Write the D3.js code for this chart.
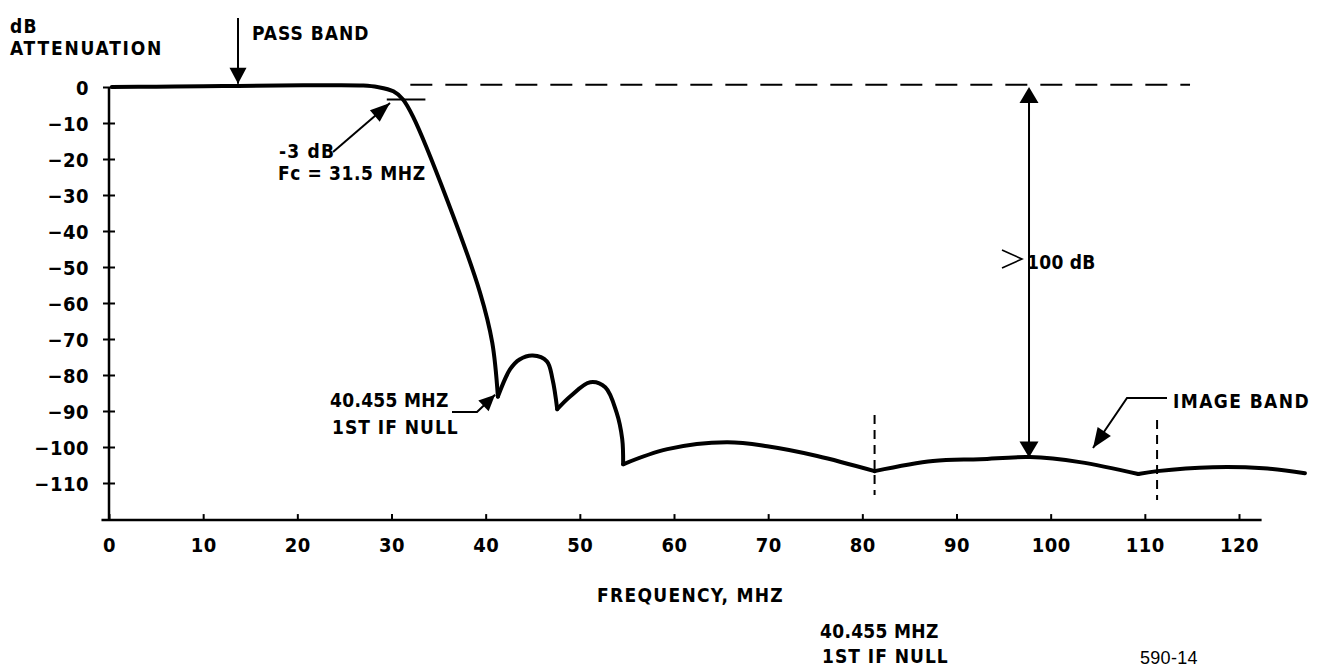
<!DOCTYPE html>
<html><head><meta charset="utf-8">
<script src="https://cdn.jsdelivr.net/npm/d3@7"></script>
<style>html,body{margin:0;padding:0;background:#fff;}svg{display:block;}</style>
</head><body>
<svg id="chart" width="1318" height="669"></svg>
<script>
// ---- data ----
const freqMHz = [0.3, 5, 10, 13.7, 18, 23.8, 27, 28.5, 30.2, 31.2, 32.3, 35.9, 39.4, 40.7, 41.3,
  42.6, 43.6, 45.0, 46.5, 47.1, 47.6, 49.0, 51.1, 52.7, 53.9, 54.5, 54.6,
  59.3, 65.6, 69.9, 75.2, 81.3, 87.5, 92.5, 97.8, 103.1, 109.3, 111.3, 117.2, 122.6, 127.0];
const attenDB = [0, 0.1, 0.2, 0.3, 0.4, 0.5, 0.4, 0, -1.2, -3.4, -8.3, -31.3, -57.1, -71, -86,
  -78.4, -75.7, -74.6, -76.2, -81.2, -89.5, -85.9, -82, -83.4, -90.4, -97.8, -104.8,
  -100.6, -98.7, -99.8, -102.5, -106.7, -103.9, -103.4, -102.8, -104.2, -107.5, -106.7, -105.6, -105.9, -107.3];
const nullFreqs = [41.3, 47.6, 54.6, 81.3, 109.3];
const xTickValues = [0, 10, 20, 30, 40, 50, 60, 70, 80, 90, 100, 110, 120];
const yTickValues = [0, -10, -20, -30, -40, -50, -60, -70, -80, -90, -100, -110];
const imageBandMarks = [81.3, 111.3];
const rejectionMHz = 97.7;
const passBandMHz = 13.7;

// ---- layout ----
const FONT = "'DejaVu Sans Condensed','DejaVu Sans',sans-serif";
const svg = d3.select("#chart");
const x = d3.scaleLinear().domain([0, 120]).range([109, 1239]);
const y = d3.scaleLinear().domain([-120, 0]).range([519, 87]);

function txt(s, px, py, opts = {}) {
  return svg.append("text").attr("x", px).attr("y", py).text(s)
    .attr("font-family", opts.family || FONT).attr("font-stretch", "condensed")
    .attr("font-weight", opts.weight || "bold")
    .attr("font-size", opts.size || 19).attr("letter-spacing", opts.ls != null ? opts.ls : 1.2)
    .attr("text-anchor", opts.anchor || "start").attr("fill", "#000");
}
function arrowHead(x1, y1, x2, y2, len, wid) {
  const a = Math.atan2(y2 - y1, x2 - x1);
  const bx = x2 - len * Math.cos(a), by = y2 - len * Math.sin(a);
  const px = -Math.sin(a) * wid / 2, py = Math.cos(a) * wid / 2;
  svg.append("path").attr("d", `M${x2},${y2}L${bx + px},${by + py}L${bx - px},${by - py}Z`).attr("fill", "#000");
}
function leader(points, len, wid, sw) {
  svg.append("path").attr("d", d3.line()(points)).attr("fill", "none").attr("stroke", "#000").attr("stroke-width", sw || 2);
  const n = points.length;
  arrowHead(points[n - 2][0], points[n - 2][1], points[n - 1][0], points[n - 1][1], len, wid);
}

// ---- axes ----
svg.append("line").attr("x1", x(-0.8)).attr("x2", x(122.4)).attr("y1", y(-120.3)).attr("y2", y(-120.3))
  .attr("stroke", "#000").attr("stroke-width", 2.5);
svg.append("line").attr("x1", x(0)).attr("x2", x(0)).attr("y1", y(0)).attr("y2", y(-120.3))
  .attr("stroke", "#000").attr("stroke-width", 2.5);

const gx = svg.append("g").attr("transform", `translate(0,${y(-120.3)})`)
  .call(d3.axisBottom(x).tickValues(xTickValues).tickSizeInner(-6).tickSizeOuter(0).tickFormat(d3.format("d")));
gx.select(".domain").remove();
gx.selectAll(".tick line").attr("stroke", "#000").attr("stroke-width", 2);
gx.selectAll(".tick text").attr("y", 32).attr("dy", 0).attr("font-family", FONT).attr("font-stretch", "condensed")
  .attr("font-weight", "bold").attr("font-size", 20).attr("letter-spacing", 0.5).attr("fill", "#000");

const gy = svg.append("g").attr("transform", `translate(${x(0)},0)`)
  .call(d3.axisLeft(y).tickValues(yTickValues).tickSizeInner(6).tickSizeOuter(0).tickFormat(d3.format("d")));
gy.select(".domain").remove();
gy.selectAll(".tick line").attr("x1", -6).attr("x2", 6).attr("stroke", "#000").attr("stroke-width", 2);
gy.selectAll(".tick text").attr("x", -20).attr("dy", "0.36em").attr("font-family", FONT).attr("font-stretch", "condensed")
  .attr("font-weight", "bold").attr("font-size", 20).attr("letter-spacing", 0.5).attr("fill", "#000");

// ---- reference lines ----
svg.append("line").attr("x1", x(32.0)).attr("x2", x(114.8)).attr("y1", y(0.6)).attr("y2", y(0.6))
  .attr("stroke", "#000").attr("stroke-width", 2).attr("stroke-dasharray", "22,13");
svg.append("line").attr("x1", x(29.5)).attr("x2", x(33.6)).attr("y1", y(-3.5)).attr("y2", y(-3.5))
  .attr("stroke", "#000").attr("stroke-width", 2);
imageBandMarks.forEach((f, i) => {
  svg.append("line").attr("x1", x(f)).attr("x2", x(f))
    .attr("y1", y(i === 0 ? -91.1 : -92.5)).attr("y2", y(i === 0 ? -113.3 : -114.7))
    .attr("stroke", "#000").attr("stroke-width", 2).attr("stroke-dasharray", "9,6");
});

// ---- response curve (split at the nulls so they stay sharp) ----
const pts = freqMHz.map((f, i) => [f, attenDB[i]]);
const segs = [];
let cur = [];
pts.forEach(p => {
  cur.push(p);
  if (nullFreqs.includes(p[0])) { segs.push(cur); cur = [p]; }
});
if (cur.length > 1) segs.push(cur);
const line = d3.line().x(d => x(d[0])).y(d => y(d[1])).curve(d3.curveCatmullRom.alpha(0.5));
segs.forEach(s => {
  svg.append("path").attr("d", line(s)).attr("fill", "none").attr("stroke", "#000")
    .attr("stroke-width", 4).attr("stroke-linejoin", "round").attr("stroke-linecap", "round");
});

// ---- annotations ----
txt("dB", 10, 33);
txt("ATTENUATION", 10, 55, { ls: 1.8 });

leader([[x(passBandMHz), 18], [x(passBandMHz), y(0.9)]], 16, 17, 2);
txt("PASS BAND", 252, 40, { ls: 1.0 });

leader([[333, 152], [390, 103]], 20, 15, 2);
txt("-3 dB", 279, 158);
txt("Fc = 31.5 MHZ", 278, 180, { ls: 0.6 });

leader([[452, 412], [477, 412], [x(41.0), y(-85.5)]], 16, 15, 2);
txt("40.455 MHZ", 330, 407, { ls: 0.3 });
txt("1ST IF NULL", 332, 434, { ls: 1.0 });

svg.append("line").attr("x1", x(rejectionMHz)).attr("x2", x(rejectionMHz))
  .attr("y1", y(-1)).attr("y2", y(-102)).attr("stroke", "#000").attr("stroke-width", 2);
arrowHead(x(rejectionMHz), y(-20), x(rejectionMHz), y(0), 16, 19);
arrowHead(x(rejectionMHz), y(-80), x(rejectionMHz), y(-102.9), 16, 19);
svg.append("path").attr("d", "M1002,250L1022,259L1002,268").attr("fill", "none")
  .attr("stroke", "#000").attr("stroke-width", 1.6);
txt("100 dB", 1027, 269, { ls: 0.3 });

leader([[1167, 398], [1127, 398], [1093, 448]], 20, 16, 2);
txt("IMAGE BAND", 1173, 408, { ls: 1.4 });

txt("FREQUENCY, MHZ", 597, 602, { ls: 1.3 });
txt("40.455 MHZ", 820, 638, { ls: 0.3 });
txt("1ST IF NULL", 822, 663, { ls: 1.0 });
txt("590-14", 1140, 664, { weight: "normal", size: 18, ls: 0.3, family: "'Liberation Sans',Arial,sans-serif" });
</script>
</body></html>
